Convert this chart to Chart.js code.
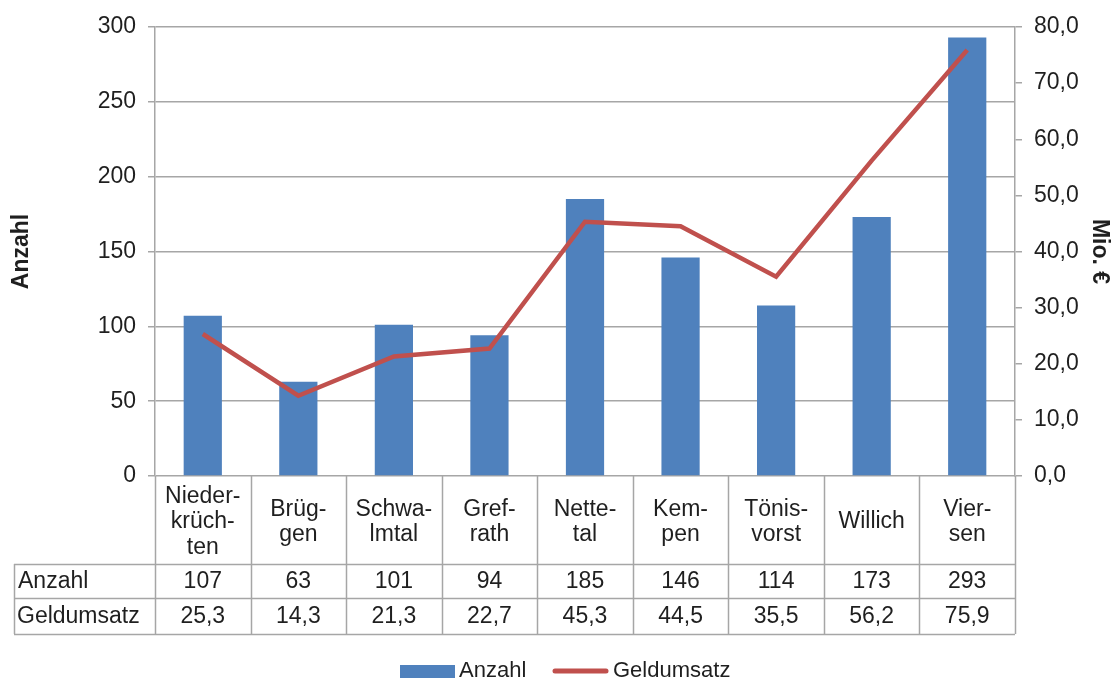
<!DOCTYPE html>
<html>
<head>
<meta charset="utf-8">
<script src="https://cdn.jsdelivr.net/npm/chart.js@4.4.1/dist/chart.umd.min.js"></script>
<style>
  html, body { margin: 0; padding: 0; background: #ffffff; }
  #wrap { width: 1117px; height: 682px; }
</style>
</head>
<body>
<div id="wrap"><canvas id="c" width="1117" height="682"></canvas></div>
<script>
const categories = [
  ["Nieder-", "krüch-", "ten"],
  ["Brüg-", "gen"],
  ["Schwa-", "lmtal"],
  ["Gref-", "rath"],
  ["Nette-", "tal"],
  ["Kem-", "pen"],
  ["Tönis-", "vorst"],
  ["Willich"],
  ["Vier-", "sen"]
];
const anzahl = [107, 63, 101, 94, 185, 146, 114, 173, 293];
const geldumsatz = [25.3, 14.3, 21.3, 22.7, 45.3, 44.5, 35.5, 56.2, 75.9];
const seriesNames = ["Anzahl", "Geldumsatz"];
const axisTitles = { left: "Anzahl", right: "Mio. €" };

const FONT = "'Liberation Sans', Arial, sans-serif";
const TEXT = "#1f1f1f";
const LINE = "#a6a6a6";
const BLUE = "#4f81bd";
const RED = "#c0504d";

const fmt1 = v => v.toFixed(1).replace('.', ',');

const tablePlugin = {
  id: 'dataTable',
  afterDraw(chart) {
    const ctx = chart.ctx;
    const xs = chart.scales.x;
    const area = chart.chartArea;
    const n = categories.length;
    const colW = (xs.right - xs.left) / n;
    const top = area.bottom;
    const hdrBottom = top + 88;
    const row1Bottom = hdrBottom + 34;
    const row2Bottom = row1Bottom + 36;
    const tableLeft = 14;

    ctx.save();
    ctx.strokeStyle = LINE;
    ctx.lineWidth = 1.5;
    ctx.beginPath();
    for (let i = 0; i <= n; i++) {
      const x = Math.round(xs.left + i * colW) + 0.5;
      ctx.moveTo(x, top);
      ctx.lineTo(x, row2Bottom);
    }
    ctx.moveTo(tableLeft + 0.5, hdrBottom);
    ctx.lineTo(tableLeft + 0.5, row2Bottom);
    [hdrBottom, row1Bottom, row2Bottom].forEach(y => {
      ctx.moveTo(tableLeft, Math.round(y) + 0.5);
      ctx.lineTo(xs.right, Math.round(y) + 0.5);
    });
    ctx.stroke();

    ctx.fillStyle = TEXT;
    ctx.font = "23px " + FONT;
    ctx.textAlign = 'center';
    ctx.textBaseline = 'middle';
    const lh = 25.5;
    for (let i = 0; i < n; i++) {
      const cx = xs.getPixelForValue(i);
      const lines = categories[i];
      const midY = (top + hdrBottom) / 2 + 2;
      const startY = midY - (lines.length - 1) * lh / 2;
      lines.forEach((t, k) => ctx.fillText(t, cx, startY + k * lh));
      ctx.fillText(String(anzahl[i]), cx, (hdrBottom + row1Bottom) / 2 + 1);
      ctx.fillText(fmt1(geldumsatz[i]), cx, (row1Bottom + row2Bottom) / 2 + 1);
    }
    ctx.textAlign = 'left';
    ctx.fillText(seriesNames[0], tableLeft + 4, (hdrBottom + row1Bottom) / 2 + 1);
    ctx.fillText(seriesNames[1], tableLeft + 3, (row1Bottom + row2Bottom) / 2 + 1);

    // legend
    const ly = 671;
    ctx.font = "22px " + FONT;
    let lx = 400;
    ctx.fillStyle = BLUE;
    ctx.fillRect(lx, ly - 6, 55, 13);
    ctx.fillStyle = TEXT;
    ctx.fillText(seriesNames[0], lx + 59, ly);
    lx = 553;
    ctx.strokeStyle = RED;
    ctx.lineWidth = 5;
    ctx.lineCap = 'round';
    ctx.beginPath();
    ctx.moveTo(lx + 2, ly);
    ctx.lineTo(lx + 53, ly);
    ctx.stroke();
    ctx.fillStyle = TEXT;
    ctx.fillText(seriesNames[1], lx + 60, ly);
    ctx.restore();
  }
};

new Chart(document.getElementById('c'), {
  data: {
    labels: categories,
    datasets: [
      {
        type: 'line',
        label: seriesNames[1],
        data: geldumsatz,
        yAxisID: 'y1',
        borderColor: RED,
        backgroundColor: RED,
        borderWidth: 4.5,
        pointRadius: 0,
        tension: 0,
        order: 0
      },
      {
        type: 'bar',
        label: seriesNames[0],
        data: anzahl,
        yAxisID: 'y',
        backgroundColor: BLUE,
        borderWidth: 0,
        categoryPercentage: 1.0,
        barPercentage: 0.4,
        order: 1
      }
    ]
  },
  options: {
    responsive: false,
    animation: false,
    layout: { padding: { top: 27, left: 0, right: 0, bottom: 0 } },
    plugins: { legend: { display: false }, tooltip: { enabled: false } },
    scales: {
      x: {
        display: true,
        offset: true,
        ticks: { display: false },
        grid: { display: false },
        border: { display: false },
        afterFit(s) { s.height = 206; }
      },
      y: {
        position: 'left',
        min: 0, max: 300,
        ticks: { stepSize: 50, color: TEXT, font: { family: FONT, size: 23 }, padding: 12 },
        grid: { color: LINE, lineWidth: 1.5, tickLength: 7 },
        border: { display: true, color: LINE, width: 1.5 },
        title: { display: true, text: axisTitles.left, color: TEXT, font: { family: FONT, size: 23, weight: 'bold' }, padding: { top: 8, bottom: 0 } },
        afterFit(s) { s.width = 155; }
      },
      y1: {
        position: 'right',
        min: 0, max: 80,
        ticks: { stepSize: 10, color: TEXT, font: { family: FONT, size: 23 }, padding: 12, callback: v => fmt1(v) },
        grid: { drawOnChartArea: false, color: LINE, lineWidth: 1.5, tickLength: 7 },
        border: { display: true, color: LINE, width: 1.5 },
        title: { display: true, text: axisTitles.right, color: TEXT, font: { family: FONT, size: 23, weight: 'bold' }, padding: { top: 4, bottom: 0 } },
        afterFit(s) { s.width = 102; }
      }
    }
  },
  plugins: [tablePlugin]
});
</script>
</body>
</html>
